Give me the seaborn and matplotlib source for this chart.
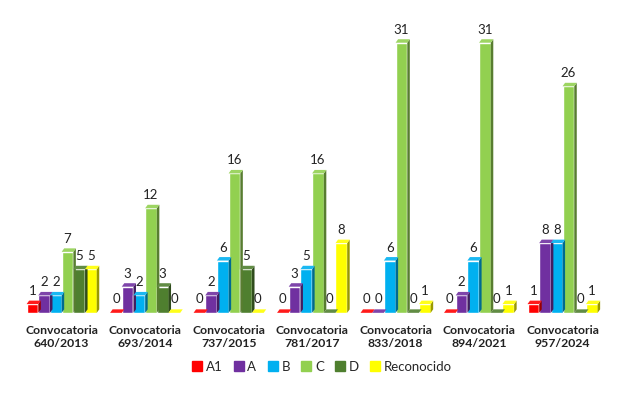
import pandas as pd
import matplotlib
matplotlib.use("Agg")
import matplotlib.pyplot as plt
import seaborn as sns
from matplotlib.patches import Polygon
from matplotlib.colors import to_rgb

# Data
categories = ["Convocatoria\n640/2013", "Convocatoria\n693/2014", "Convocatoria\n737/2015",
              "Convocatoria\n781/2017", "Convocatoria\n833/2018", "Convocatoria\n894/2021",
              "Convocatoria\n957/2024"]
series = ["A1", "A", "B", "C", "D", "Reconocido"]
a1 = [1, 0, 0, 0, 0, 0, 1]
a = [2, 3, 2, 3, 0, 2, 8]
b = [2, 2, 6, 5, 6, 6, 8]
c = [7, 12, 16, 16, 31, 31, 26]
d = [5, 3, 5, 0, 0, 0, 0]
reconocido = [5, 0, 0, 8, 1, 1, 1]
colors = ["#FF0000", "#7030A0", "#00B0F0", "#92D050", "#4F7F2F", "#FFFF00"]

values = [a1, a, b, c, d, reconocido]
rows = []
for name, vals in zip(series, values):
    for cat, v in zip(categories, vals):
        rows.append({"cat": cat, "serie": name, "valor": v})
df = pd.DataFrame(rows)

sns.set_theme(style="white")
plt.rcParams["font.family"] = ["Lato", "DejaVu Sans"]

fig = plt.figure(figsize=(6.23, 3.93), dpi=100)
ax = fig.add_axes([0.032, 0.204, 0.938, 0.776])

sns.barplot(data=df, x="cat", y="valor", hue="serie", palette=colors,
            width=0.84, gap=0, saturation=1, ax=ax, legend=False)

ax.set_ylim(0, 35)
ax.set_xlim(-0.5, 6.5)

# fake 3D look: darker right side and top cap on every bar
dx, dy = 0.03, 0.4
for bars, col in zip(ax.containers, colors):
    r, g, bl = to_rgb(col)
    side = (r * 0.6, g * 0.6, bl * 0.6)
    top = (min(1, r * 0.9 + 0.1), min(1, g * 0.9 + 0.1), min(1, bl * 0.9 + 0.1))
    for p in bars.patches:
        x0 = p.get_x()
        w = p.get_width()
        h = p.get_height()
        ax.add_patch(Polygon([(x0 + w, 0), (x0 + w + dx, dy), (x0 + w + dx, h + dy), (x0 + w, h)],
                             closed=True, facecolor=side, edgecolor="none", zorder=p.get_zorder()))
        ax.add_patch(Polygon([(x0, h), (x0 + dx, h + dy), (x0 + w + dx, h + dy), (x0 + w, h)],
                             closed=True, facecolor=top, edgecolor="none", zorder=p.get_zorder()))
        if h == 0:
            p.set_height(0.15)
    ax.bar_label(bars, labels=[str(int(round(p.get_height()))) if p.get_height() >= 0.5 else "0"
                               for p in bars.patches],
                 padding=5, fontsize=9.5, color="#222222")

ax.set_xlabel("")
ax.set_ylabel("")
ax.set_yticks([])
ax.tick_params(axis="x", length=0, pad=9)
for lbl in ax.get_xticklabels():
    lbl.set_fontweight("bold")
    lbl.set_fontsize(8.8)
    lbl.set_color("#222222")
sns.despine(ax=ax, left=True, bottom=True)

handles = [plt.Line2D([], [], marker="s", linestyle="", markersize=7, color=col) for col in colors]
fig.legend(handles, series, loc="center", bbox_to_anchor=(0.515, 0.066), ncol=6, frameon=False,
           fontsize=9.5, handletextpad=0.1, columnspacing=0.7, handlelength=1.1)

fig.savefig("out.png", dpi=100)
